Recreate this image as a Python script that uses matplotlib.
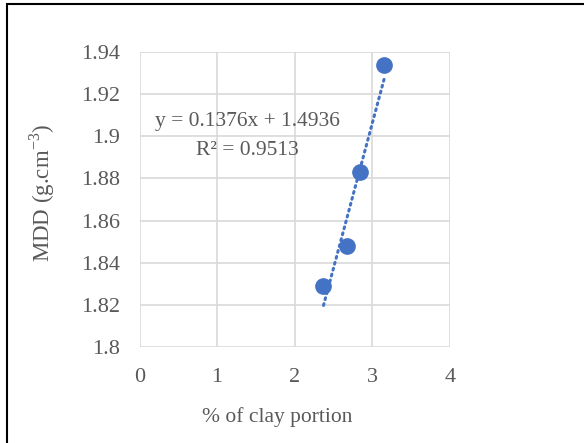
import numpy as np
import matplotlib
matplotlib.use("Agg")
import matplotlib.pyplot as plt
from matplotlib.patches import Rectangle

clay = [2.37, 2.67, 2.845, 3.155]
mdd = [1.829, 1.848, 1.883, 1.934]
slope = 0.1376
intercept = 1.4936
r2 = 0.9513
xticks = [0, 1, 2, 3, 4]
yticks = [1.8, 1.82, 1.84, 1.86, 1.88, 1.9, 1.92, 1.94]
yticklabels = ["1.8", "1.82", "1.84", "1.86", "1.88", "1.9", "1.92", "1.94"]

plt.rcParams['font.family'] = ['Liberation Serif', 'DejaVu Serif']
plt.rcParams['mathtext.fontset'] = 'custom'
plt.rcParams['mathtext.rm'] = 'Liberation Serif'

blue = '#4472C4'
grey = '#595959'

fig = plt.figure(figsize=(5.84, 4.43), dpi=100)
ax = fig.add_axes([0.2389, 0.2167, 0.5317, 0.6659])

# trendline
tx = np.array([min(clay), max(clay)])
ax.plot(tx, slope * tx + intercept, linestyle=(0, (0.6, 1.4)), color=blue,
        lw=2.2, dash_capstyle='round', zorder=2)
ax.plot(clay, mdd, 'o', color=blue, markersize=11, zorder=3)

ax.text(1.385, 1.9071, "y = %.4fx + %.4f" % (slope, intercept), ha='center', va='center',
        fontsize=15.5, color=grey)
ax.text(1.385, 1.8931, "R² = %.4f" % r2, ha='center', va='center',
        fontsize=15.5, color=grey)

ax.set_xlim(0, 4)
ax.set_ylim(1.8, 1.94)
ax.set_xticks(xticks)
ax.set_yticks(yticks)
ax.set_yticklabels(yticklabels)
ax.tick_params(length=0, labelsize=16, colors=grey)
ax.tick_params(axis='x', pad=15)
ax.tick_params(axis='y', pad=14)
for s in ax.spines.values():
    s.set_visible(False)
ax.grid(True, color='#d9d9d9', lw=1.2)
ax.set_axisbelow(True)

ax.set_xlabel("% of clay portion", fontsize=15.5, color=grey)
ax.xaxis.set_label_coords(0.443, -0.205)
ax.set_ylabel(r"MDD (g.cm$^{\mathregular{-3}}$)", fontsize=16.5, color=grey)
ax.yaxis.set_label_coords(-0.266, 0.524)

fig.patches.append(Rectangle((7 / 584, -0.1), 1.2, 1.1 - 4.5 / 443, transform=fig.transFigure,
                             fill=False, edgecolor='black', lw=1.5))

fig.savefig("out.png", dpi=100)
